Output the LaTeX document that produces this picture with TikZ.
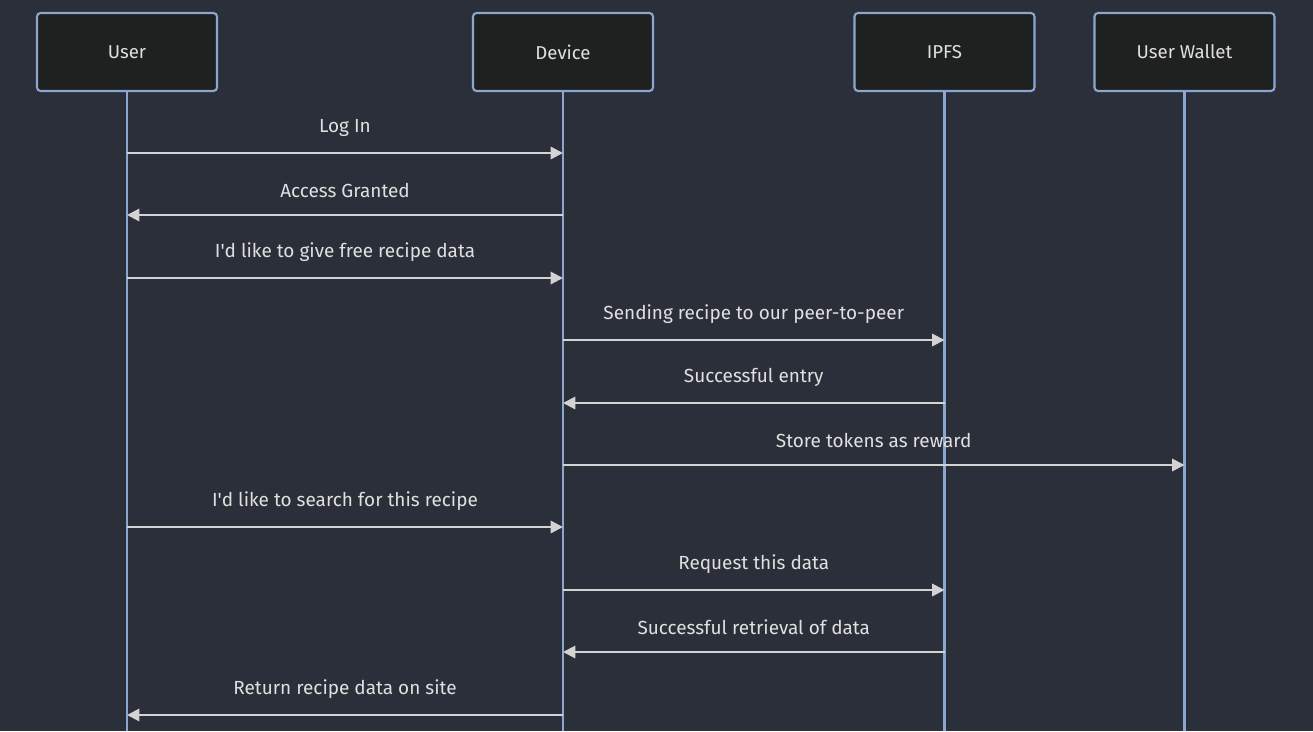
\documentclass[tikz,border=0pt]{standalone}
\usepackage{fontspec}
\setmainfont{Fira Sans}
\usetikzlibrary{arrows.meta}
\definecolor{bgdark}{HTML}{2B2F3A}
\definecolor{boxfill}{HTML}{1F2020}
\definecolor{lifeblue}{HTML}{8BA6CF}
\definecolor{signal}{HTML}{D3D3D3}
\definecolor{msgtext}{HTML}{E0E0E0}

\tikzset{
  actor/.style={draw=lifeblue, fill=boxfill, line width=1.2pt, rounded corners=2pt,
    minimum width=3.6cm, minimum height=1.56cm, text=msgtext, font=\fontsize{10.6}{12}\selectfont},
  lifeline/.style={lifeblue, line width=1.2pt},
  signalline/.style={signal, line width=1.2pt, -{Triangle[length=7pt, width=7pt]}},
  msglabel/.style={text=msgtext, font=\fontsize{10.8}{13}\selectfont, above=0.2cm}
}

\begin{document}
\begin{tikzpicture}[x=0.02cm, y=-0.02cm]
\useasboundingbox (0,0) rectangle (1313,731);
\fill[bgdark] (0,0) rectangle (1313,731);

% lifelines
\coordinate (userEnd) at (127,731);
\coordinate (devEnd) at (563,731);
\coordinate (ipfsEnd) at (944.5,731);
\coordinate (walletEnd) at (1184.5,731);
\draw[lifeline] (127,52) -- (userEnd);
\draw[lifeline] (563,52) -- (devEnd);
\draw[lifeline] (944.5,52) -- (ipfsEnd);
\draw[lifeline] (1184.5,52) -- (walletEnd);

% participants
\node[actor] (user) at (127,52) {User};
\node[actor] (device) at (563,52) {Device};
\node[actor] (ipfs) at (944.5,52) {IPFS};
\node[actor] (wallet) at (1184.5,52) {User Wallet};

% points on the lifelines
\coordinate (u1) at (127,153);   \coordinate (d1) at (563,153);
\coordinate (u2) at (127,215);   \coordinate (d2) at (563,215);
\coordinate (u3) at (127,278);   \coordinate (d3) at (563,278);
\coordinate (d4) at (563,340);   \coordinate (i4) at (944.5,340);
\coordinate (d5) at (563,403);   \coordinate (i5) at (944.5,403);
\coordinate (d6) at (563,465);   \coordinate (w6) at (1184.5,465);
\coordinate (u7) at (127,527);   \coordinate (d7) at (563,527);
\coordinate (d8) at (563,590);   \coordinate (i8) at (944.5,590);
\coordinate (d9) at (563,652);   \coordinate (i9) at (944.5,652);
\coordinate (u10) at (127,715);  \coordinate (d10) at (563,715);

% messages
\draw[signalline] (u1) -- node[msglabel] (m1) {Log In} (d1);
\draw[signalline] (d2) -- node[msglabel] (m2) {Access Granted} (u2);
\draw[signalline] (u3) -- node[msglabel] (m3) {I\textquotesingle d like to give free recipe data} (d3);
\draw[signalline] (d4) -- node[msglabel] (m4) {Sending recipe to our peer-to-peer} (i4);
\draw[signalline] (i5) -- node[msglabel] (m5) {Successful entry} (d5);
\draw[signalline] (d6) -- node[msglabel] (m6) {Store tokens as reward} (w6);
\draw[signalline] (u7) -- node[msglabel] (m7) {I\textquotesingle d like to search for this recipe} (d7);
\draw[signalline] (d8) -- node[msglabel] (m8) {Request this data} (i8);
\draw[signalline] (i9) -- node[msglabel] (m9) {Successful retrieval of data} (d9);
\draw[signalline] (d10) -- node[msglabel] (m10) {Return recipe data on site} (u10);
\end{tikzpicture}
\end{document}
